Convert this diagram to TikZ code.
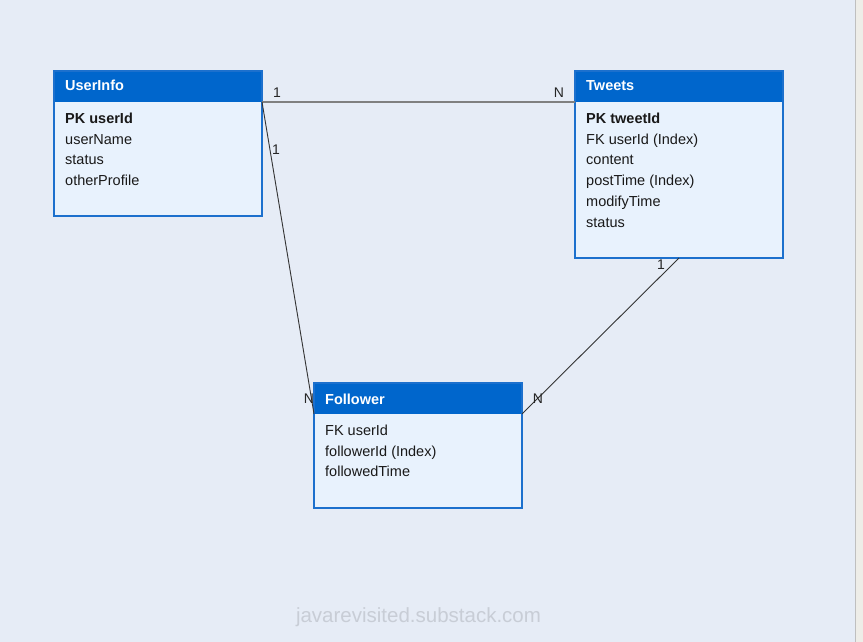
\documentclass[tikz,border=0pt]{standalone}
\usepackage{fontspec}
\setmainfont{Liberation Sans}
\definecolor{bgc}{RGB}{230,236,246}
\definecolor{hdr}{RGB}{0,102,204}
\definecolor{brd}{RGB}{28,112,205}
\definecolor{bodyc}{RGB}{232,242,253}
\definecolor{strip}{RGB}{238,237,232}
\definecolor{wm}{RGB}{200,205,214}
\begin{document}
\begin{tikzpicture}[x=1pt,y=-1pt,
  entity/.style={fill=bodyc,rectangle,inner sep=0pt,outer sep=0pt,anchor=north west,minimum width=208pt},
  header/.style={fill=hdr,rectangle,inner sep=0pt,outer sep=0pt,anchor=north west,minimum width=208pt,minimum height=31pt},
  frame/.style={draw=brd,line width=2pt},
  htext/.style={anchor=base west,inner sep=0pt,text=white,font=\fontsize{14.5}{17}\selectfont\bfseries},
  field/.style={anchor=base west,inner sep=0pt,text=black!90,font=\fontsize{14.5}{17}\selectfont},
  pk/.style={field,font=\fontsize{14.5}{17}\selectfont\bfseries},
  card/.style={inner sep=0pt,text=black!85,font=\fontsize{14}{16}\selectfont},
  rel/.style={draw=black!80,line width=0.9pt},
  relg/.style={draw=black!50,line width=1.8pt}]
\useasboundingbox (0,0) rectangle (863,642);
\fill[bgc] (0,0) rectangle (863,642);
\fill[strip] (855,0) rectangle (863,642);
\draw[black!25,line width=1pt] (855.5,0) -- (855.5,642);

% UserInfo
\node[entity,minimum height=145pt] (userinfo) at (54,71) {};
\node[header] (userinfoH) at (54,71) {};
\draw[frame] (userinfo.north west) rectangle (userinfo.south east);
\node[htext] (userinfoT) at (65,91) {UserInfo};
\node[pk] (u1) at (65,123.5) {PK userId};
\node[field] (u2) at (65,144.2) {userName};
\node[field] (u3) at (65,164.9) {status};
\node[field] (u4) at (65,185.6) {otherProfile};

% Tweets
\node[entity,minimum height=187pt] (tweets) at (575,71) {};
\node[header] (tweetsH) at (575,71) {};
\draw[frame] (tweets.north west) rectangle (tweets.south east);
\node[htext] (tweetsT) at (586,91) {Tweets};
\node[pk] (t1) at (586,123.5) {PK tweetId};
\node[field] (t2) at (586,144.2) {FK userId (Index)};
\node[field] (t3) at (586,164.9) {content};
\node[field] (t4) at (586,185.6) {postTime (Index)};
\node[field] (t5) at (586,206.3) {modifyTime};
\node[field] (t6) at (586,227) {status};

% Follower
\node[entity,minimum height=125pt] (follower) at (314,383) {};
\node[header] (followerH) at (314,383) {};
\draw[frame] (follower.north west) rectangle (follower.south east);
\node[htext] (followerT) at (325,404) {Follower};
\node[field] (f1) at (325,435.5) {FK userId};
\node[field] (f2) at (325,456.2) {followerId (Index)};
\node[field] (f3) at (325,476.9) {followedTime};

% connectors
\draw[relg] (userinfoH.south east) -- (tweetsH.south west);
\draw[rel] (userinfoH.south east) -- (followerH.south west);
\draw[rel] (tweets.south) -- (followerH.south east);

% cardinalities
\node[card] (c1) at (277,93) {1};
\node[card] (c2) at (559,93) {N};
\node[card] (c3) at (276,150) {1};
\node[card] (c4) at (309,399) {N};
\node[card] (c5) at (661,265) {1};
\node[card] (c6) at (538,399) {N};

% watermark
\node[inner sep=0pt,text=wm,font=\fontsize{20.5}{24}\selectfont] (wmark) at (418.5,617) {javarevisited.substack.com};
\end{tikzpicture}
\end{document}
